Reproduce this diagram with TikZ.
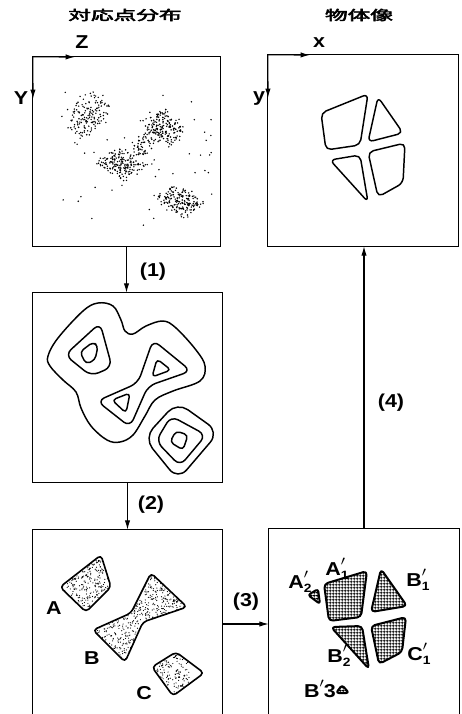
\documentclass[tikz,border=0pt]{standalone}
\usepackage{fontspec}
\setmainfont{Liberation Sans}
\newfontfamily\cjk{Noto Sans CJK JP}[AutoFakeBold=3]
\usetikzlibrary{fit,arrows.meta,patterns}
\pgfdeclarepatternformonly{finegrid}{\pgfpointorigin}{\pgfpoint{2.4pt}{2.4pt}}{\pgfpoint{2.4pt}{2.4pt}}{%
  \pgfsetlinewidth{0.75pt}%
  \pgfpathmoveto{\pgfpoint{0pt}{1.2pt}}\pgfpathlineto{\pgfpoint{2.4pt}{1.2pt}}%
  \pgfpathmoveto{\pgfpoint{1.2pt}{0pt}}\pgfpathlineto{\pgfpoint{1.2pt}{2.4pt}}%
  \pgfusepath{stroke}}
\newcommand\dotcluster[7]{%
  \foreach \k in {1,...,#7}{%
    \pgfmathsetmacro\ru{1.12*(0.75*rand+0.25*rand)}\pgfmathsetmacro\rv{1.12*(0.75*rand+0.25*rand)}%
    \fill ({#1+\ru*#3+\rv*#5},{#2+\ru*#4+\rv*#6}) circle (0.8);}}
\newcommand\wide[1]{\scalebox{1.15}[1]{#1}}
\newcommand\plab[2]{\wide{#1\rlap{\raisebox{1.0ex}{$\scriptstyle\prime$}}\raisebox{-0.4ex}{\small #2}}}
\begin{document}
\begin{tikzpicture}[x=0.75pt,y=-0.75pt,
  frame/.style={draw=none,inner sep=0pt},
  edge/.style={line width=0.9pt,line join=miter},
  conn/.style={line width=0.8pt,-{Latex[length=7pt,width=4pt]}},
  axarr/.style={line width=0.9pt,-{Latex[length=7pt,width=4pt]}},
  contour/.style={line width=1.1pt,line join=round},
  blob/.style={line width=1.2pt,rounded corners=3pt,line join=round},
  hblob/.style={line width=1.5pt,rounded corners=3pt,line join=round,pattern=finegrid},
  oblob/.style={line width=1.1pt,rounded corners=4pt,line join=round,fill=white},
  lab/.style={font=\fontsize{14}{14}\selectfont\bfseries,inner sep=0pt},
  ttl/.style={font=\fontsize{10}{10}\selectfont\cjk\bfseries,inner sep=0pt}]
\useasboundingbox (0,0) rectangle (461,714);
\fill[white] (0,0) rectangle (461,714);
\pgfmathsetseed{4711}

% frames
\node[frame,fit={(33,57) (220,246)}] (b1) {};
\node[frame,fit={(33,293) (222,482)}] (b2) {};
\node[frame,fit={(33,530) (222,714)}] (b3) {};
\node[frame,fit={(268,55) (458,246)}] (b4) {};
\node[frame,fit={(269,529) (459,714)}] (b5) {};
\draw[edge] (b1.south west) rectangle (b1.north east);
\draw[edge] (b2.south west) rectangle (b2.north east);
\draw[edge] (b4.south west) rectangle (b4.north east);
\draw[edge] (b3.south west) -- (b3.north west) -- (b3.north east) -- (b3.south east);
\draw[edge] (b5.south west) -- (b5.north west) -- (b5.north east) -- (b5.south east);

% titles
\node[ttl] (t1) at (125,15) {\scalebox{1.7}[1]{対応点分布}};
\node[ttl] (t2) at (359,15) {\scalebox{1.7}[1]{物体像}};

% axes
\coordinate (z1) at (75,57);
\coordinate (y1) at (33,99);
\coordinate (z2) at (310,55);
\coordinate (y2) at (268,98);
\draw[axarr] (b1.north west) -- (z1);
\draw[axarr] (b1.north west) -- (y1);
\draw[axarr] (b4.north west) -- (z2);
\draw[axarr] (b4.north west) -- (y2);
\node[lab] (lz) at (82,42) {\wide{Z}};
\node[lab] (ly) at (21,98) {\wide{Y}};
\node[lab] (lx) at (319,43) {\wide{x}};
\node[lab] (lyy) at (259,99) {\wide{y}};

% connectors
\draw[conn] (b1.south) -- (b1.south |- b2.north);
\draw[conn] (b2.south) -- (b2.south |- b3.north);
\draw[conn] (b3.east |- 0,624) -- (b5.west |- 0,624);
\draw[conn] (b5.north) -- (b5.north |- b4.south);
\node[lab] (s1) at (153,272) {\wide{(1)}};
\node[lab] (s2) at (151,505) {\wide{(2)}};
\node[lab] (s3) at (246,602) {\wide{(3)}};
\node[lab] (s4) at (391,403) {\wide{(4)}};

% box 1: point clusters
\dotcluster{88}{115}{18}{-13}{6}{16}{150}
\dotcluster{165}{127}{10}{-10}{15}{13.5}{165}
\dotcluster{122}{164}{13}{-8.5}{13.5}{10}{175}
\dotcluster{146}{142}{12}{-10}{6}{7}{70}
\dotcluster{180}{201}{11}{-8.5}{15}{10}{170}
\foreach \k in {1,...,60}{\fill ({135+78*rand},{158+72*rand}) circle (0.8);}

% box 2: contours
\draw[contour] plot[smooth cycle,tension=0.6] coordinates {
 (48,356) (58,338) (83,311) (98,303) (113,306) (121,320) (125,331) (133,334)
 (146,326) (163,321) (176,328) (196,350) (205,366) (200,381) (173,391) (155,400)
 (145,416) (133,435) (120,442) (107,440) (91,426) (81,408) (76,392) (63,380) (50,366)};
\draw[contour,rounded corners=6pt] (65,355) -- (100,323) -- (112,367) -- (91,376) -- cycle;
\draw[contour,rounded corners=3pt] (80,352) -- (93,342) -- (98,346) -- (95,360) -- (86,364) -- cycle;
\draw[contour,rounded corners=6pt] (153,340) -- (191,371) -- (148,386) -- (130,427) -- (97,401) -- (138,383) -- cycle;
\draw[contour,rounded corners=3pt] (157,359) -- (171,370) -- (152,377) -- cycle;
\draw[contour,rounded corners=3pt] (112,400) -- (130,393) -- (126,413) -- cycle;
\draw[contour,rounded corners=10pt] (144,438) -- (177,402) -- (219,432) -- (178,480) -- cycle;
\draw[contour,rounded corners=6pt] (156,441) -- (171,416) -- (206,435) -- (180,466) -- cycle;
\draw[contour,rounded corners=3pt] (170,442) -- (176,431) -- (188,435) -- (183,450) -- cycle;

% box 3: stippled regions
\def\shA{(60,587) -- (101,555) -- (111,587) -- (86,612) -- cycle}
\def\shB{(151,573) -- (187,607) -- (143,622) -- (125,662) -- (93,630) -- (131,613) -- cycle}
\def\shC{(152,667) -- (176,652) -- (204,673) -- (173,696) -- cycle}
\begin{scope}
\clip[rounded corners=3pt] \shA \shB \shC;
\foreach \k in {1,...,2600}{\fill ({122+67*rand},{625+72*rand}) circle (0.6);}
\end{scope}
\draw[blob] \shA;
\draw[blob] \shB;
\draw[blob] \shC;
\node[lab] (la) at (54,608) {\wide{A}};
\node[lab] (lb) at (92,658) {\wide{B}};
\node[lab] (lc) at (144,693) {\wide{C}};

% box 5: segmented regions
\draw[hblob] (324,584) -- (367,571) -- (361,617) -- (329,621) -- cycle;
\draw[hblob] (381,569) -- (407,606) -- (371,612) -- cycle;
\draw[hblob] (331,627) -- (362,626) -- (369,669) -- cycle;
\draw[hblob] (371,626) -- (406,617) -- (402,652) -- (379,664) -- cycle;
\draw[hblob,rounded corners=2pt] (308,595) -- (318,589) -- (320,604) -- cycle;
\draw[hblob,rounded corners=2pt] (336,693) -- (342,685) -- (349,693) -- cycle;
\node[lab] (la1) at (337,569) {\plab{A}{1}};
\node[lab] (la2) at (300,582) {\plab{A}{2}};
\node[lab] (lb1) at (418,580) {\plab{B}{1}};
\node[lab] (lb2) at (339,656) {\plab{B}{2}};
\node[lab] (lc1) at (419,654) {\plab{C}{1}};
\node[lab] (lb3) at (320,689) {\wide{B\raisebox{1.0ex}{$\scriptstyle\prime$}3}};

% box 4: object image
\draw[oblob] (321,113) -- (368,94) -- (360,145) -- (326,150) -- cycle;
\draw[oblob] (378,97) -- (403,133) -- (368,142) -- cycle;
\draw[oblob] (330,160) -- (360,155) -- (368,202) -- cycle;
\draw[oblob] (368,152) -- (405,143) -- (403,183) -- (378,197) -- cycle;
\end{tikzpicture}
\end{document}
